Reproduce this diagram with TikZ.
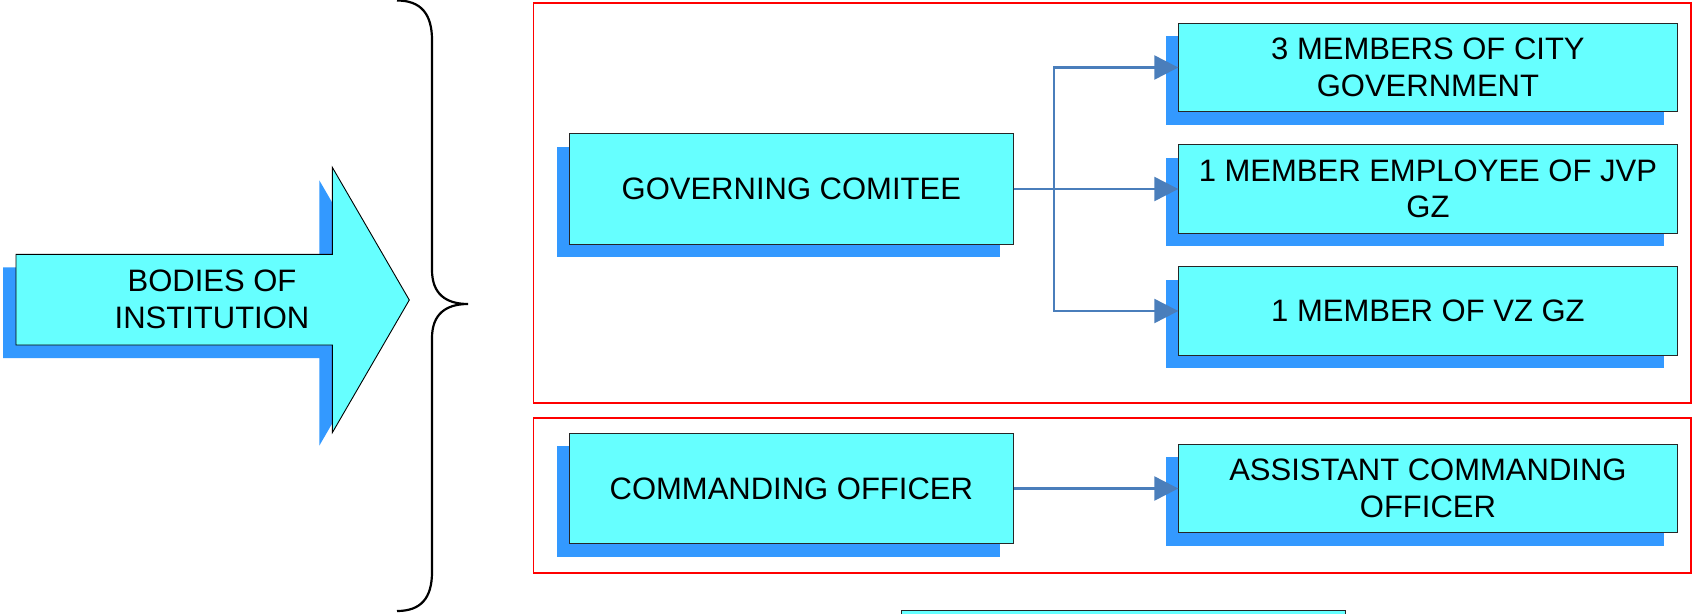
\documentclass[tikz,border=0pt]{standalone}
\usepackage{fontspec}
\setmainfont{Liberation Sans}
\usetikzlibrary{arrows.meta,shadows}
\definecolor{boxcyan}{HTML}{66FFFF}
\definecolor{shadowblue}{HTML}{3399FF}
\definecolor{connblue}{HTML}{4A7EBB}
\definecolor{framered}{HTML}{FF0000}
\begin{document}
\begin{tikzpicture}[x=1pt,y=-1pt,
  bluebox/.style={draw=black!85, line width=0.9pt, fill=boxcyan, rectangle, inner sep=0pt,
    align=center, font=\fontsize{31}{36.5}\selectfont,
    drop shadow={shadow xshift=-13pt, shadow yshift=-13pt, opacity=1, fill=shadowblue}},
  bigbox/.style={bluebox, minimum width=443.5pt, minimum height=110.5pt},
  smallbox/.style={bluebox, minimum width=498.3pt, minimum height=88.5pt},
  conn/.style={draw=connblue, line width=2.2pt, -{Triangle[length=24pt,width=24pt]}},
  redframe/.style={draw=framered, line width=1.8pt},
  bracestyle/.style={draw=black, line width=2.2pt},
  bigarrow/.style={draw=black, line width=0.9pt, fill=boxcyan,
    drop shadow={shadow xshift=-13pt, shadow yshift=-13pt, opacity=1, fill=shadowblue}},
  arrowtext/.style={align=center, inner sep=0pt, font=\fontsize{31}{37}\selectfont}
]
\useasboundingbox (0,0) rectangle (1693,613);
\clip (0,0) rectangle (1693,613);

% big arrow
\path[bigarrow] (16,254.3) -- (332.3,254.3) -- (332.3,167.3) -- (409.3,300)
  -- (332.3,432.7) -- (332.3,345) -- (16,345) -- cycle;
\node[arrowtext] (bodies) at (212,299) {BODIES OF\\INSTITUTION};

% brace
\path[bracestyle] (397,0.5) .. controls (421,0.5) and (432,14) .. (432,40)
  -- (432,270) .. controls (432,294) and (446,304) .. (468,304)
  .. controls (446,304) and (432,314) .. (432,338)
  -- (432,572) .. controls (432,598) and (421,611) .. (397,611);

% red frames
\path[redframe] (533.4,3.3) rectangle (1691,402.7);
\path[redframe] (533.4,418.3) rectangle (1691,573.3);

% boxes
\node[bigbox] (gc) at (791.3,189) {GOVERNING COMITEE};
\node[smallbox] (m1) at (1427.9,67.5) {3 MEMBERS OF CITY\\GOVERNMENT};
\node[smallbox] (m2) at (1427.9,189) {1 MEMBER EMPLOYEE OF JVP\\GZ};
\node[smallbox] (m3) at (1427.9,311) {1 MEMBER OF VZ GZ};
\node[bigbox] (co) at (791.3,488.5) {COMMANDING OFFICER};
\node[smallbox] (ac) at (1427.9,488.5) {ASSISTANT COMMANDING\\OFFICER};
\node[bigbox] (low) at (1123.4,666) {};

% connectors
\coordinate (j) at (1054,189);
\draw[conn] (gc.east) -- (m2.west);
\draw[conn] (gc.east) -- (j) |- (m1.west);
\draw[conn] (gc.east) -- (j) |- (m3.west);
\draw[conn] (co.east) -- (ac.west);
\end{tikzpicture}
\end{document}
